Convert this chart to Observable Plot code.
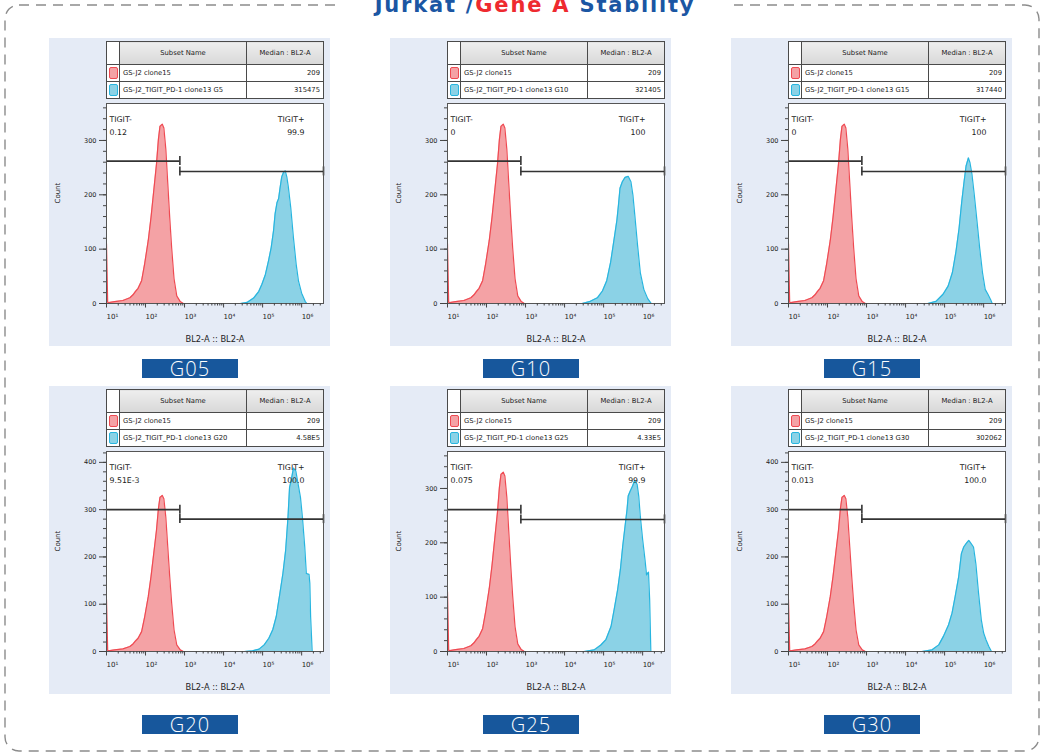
<!DOCTYPE html>
<html><head><meta charset="utf-8">
<script src="https://cdn.jsdelivr.net/npm/d3@7"></script>
<script src="https://cdn.jsdelivr.net/npm/@observablehq/plot@0.6"></script>
<style>
html,body{margin:0;padding:0;background:#fff;}
body{width:1045px;height:754px;overflow:hidden;position:relative;font-family:"DejaVu Sans",sans-serif;}
#border{position:absolute;left:0;top:0;}
#title{position:absolute;left:336px;width:398px;top:-6px;text-align:center;background:#fff;
  font:700 21px "DejaVu Sans",sans-serif;line-height:22px;color:#1b56a3;letter-spacing:1.8px;white-space:nowrap;}
#title .red{color:#ee2a2f;}
.panel{position:absolute;width:281px;height:308px;background:#e5ebf6;}
.panel svg{position:absolute;left:0;top:0;}
table.leg{position:absolute;left:57px;top:3px;width:217px;height:58px;border-collapse:collapse;table-layout:fixed;
  font:6.8px "DejaVu Sans",sans-serif;color:#222;background:#fff;border:1.6px solid #444;}
table.leg td{border:1.2px solid #4a4a4a;padding:0 3px;overflow:hidden;white-space:nowrap;}
table.leg tr.hd td{height:22px;background:linear-gradient(#eeeeee,#d8d8d8);text-align:center;}
table.leg tr.hd td.sw{background:#fff;}
table.leg td.sw{padding:0;}
table.leg td.md{text-align:right;}
.swatch{display:block;width:7px;height:10px;margin:0 auto;border-radius:2px;}
.gl{position:absolute;width:96px;height:19px;background:#17579c;color:#fff;text-align:center;
  font:300 20px "Open Sans",sans-serif;line-height:19px;letter-spacing:1px;}
</style>
</head><body>
<svg id="border" width="1045" height="754"><rect x="5" y="5" width="1034" height="746" rx="14" ry="14" fill="none" stroke="#8c8c8c" stroke-width="1.4" stroke-dasharray="10 7"/></svg>
<div id="title">Jurkat /<span class="red">Gene A</span> Stability</div>
<script>
// ---------- data ----------
const panelNames = ["G05", "G10", "G15", "G20", "G25", "G30"];
const controlName = "GS-J2 clone15";
const controlMedian = "209";
const sampleNames = [
  "GS-J2_TIGIT_PD-1 clone13 G5",
  "GS-J2_TIGIT_PD-1 clone13 G10",
  "GS-J2_TIGIT_PD-1 clone13 G15",
  "GS-J2_TIGIT_PD-1 clone13 G20",
  "GS-J2_TIGIT_PD-1 clone13 G25",
  "GS-J2_TIGIT_PD-1 clone13 G30"
];
const sampleMedians = ["315475", "321405", "317440", "4.58E5", "4.33E5", "302062"];
const negGateName = "TIGIT-";
const posGateName = "TIGIT+";
const negPct = ["0.12", "0", "0", "9.51E-3", "0.075", "0.013"];
const posPct = ["99.9", "100", "100", "100.0", "99.9", "100.0"];
const yMax = [368, 368, 368, 423, 368, 423];
const gateNegY = [262, 262, 262, 300, 261, 300];
const gatePosY = [243, 243, 243, 280, 243, 280];
const gateLog10 = 2.88;
const xLog10Min = 1, xLog10Max = 6.56;
const xTickLabels = ["10\u00b9", "10\u00b2", "10\u00b3", "10\u2074", "10\u2075", "10\u2076"];
const xAxisLabel = "BL2-A :: BL2-A";
const yAxisLabel = "Count";

// control (red) histogram: log10(BL2-A) and count
const redLog = [1.00, 1.00, 1.03, 1.05, 1.21, 1.42, 1.60, 1.68, 1.74, 1.81, 1.90, 1.98, 2.07, 2.14, 2.21, 2.28, 2.33, 2.37, 2.43, 2.47, 2.52, 2.57, 2.62, 2.67, 2.73, 2.80, 2.89, 2.97];
const redCount = [0, 110, 3, 1.5, 3.5, 5.5, 10.5, 16, 22, 28, 42, 74, 116, 158, 207, 256, 302, 326, 330, 323, 284, 221, 158, 102, 46, 14, 3.5, 0];

// sample (blue) histograms
const blueLog_G05 = [4.43, 4.60, 4.77, 4.90, 4.98, 5.07, 5.15, 5.22, 5.28, 5.32, 5.37, 5.41, 5.45, 5.49, 5.54, 5.58, 5.62, 5.66, 5.72, 5.79, 5.86, 5.92, 6.00, 6.09, 6.13];
const blueCount_G05 = [0, 2, 10, 22, 35, 53, 78, 103, 134, 165, 186, 193, 214, 233, 242, 244, 233, 214, 177, 121, 72, 41, 19, 4, 0];
const blueLog_G10 = [4.45, 4.66, 4.84, 4.97, 5.08, 5.18, 5.27, 5.34, 5.38, 5.42, 5.48, 5.55, 5.63, 5.70, 5.75, 5.80, 5.87, 5.94, 6.03, 6.13, 6.22];
const blueCount_G10 = [0, 4, 10.5, 23, 42, 76, 119, 153, 181, 212, 224, 232, 234, 224, 200, 162, 107, 57, 26, 9, 0];
const blueLog_G15 = [4.57, 4.78, 4.96, 5.09, 5.20, 5.29, 5.37, 5.44, 5.50, 5.55, 5.61, 5.65, 5.70, 5.76, 5.83, 5.90, 5.97, 6.04, 6.11, 6.18, 6.22];
const blueCount_G15 = [0, 4, 17, 32, 57, 95, 138, 188, 225, 253, 268, 259, 238, 200, 151, 101, 57, 26, 17, 7, 0];
const blueLog_G20 = [4.53, 4.74, 4.91, 5.04, 5.16, 5.26, 5.35, 5.43, 5.52, 5.59, 5.65, 5.69, 5.73, 5.79, 5.85, 5.91, 5.97, 6.02, 6.08, 6.12, 6.19, 6.21, 6.23, 6.27];
const blueCount_G20 = [0, 1.4, 5, 14, 28, 46, 74, 116, 165, 214, 284, 347, 361, 388, 382, 354, 326, 284, 221, 165, 163, 144, 74, 0];
const blueLog_G25 = [4.50, 4.76, 4.93, 5.06, 5.19, 5.27, 5.36, 5.43, 5.49, 5.56, 5.60, 5.63, 5.68, 5.74, 5.80, 5.86, 5.90, 5.94, 6.00, 6.06, 6.10, 6.15, 6.18, 6.21];
const blueCount_G25 = [0, 3, 12, 22, 46, 77, 114, 151, 194, 237, 261, 286, 295, 304, 315, 307, 286, 249, 206, 169, 141, 146, 95, 0];
const blueLog_G30 = [4.42, 4.68, 4.85, 4.97, 5.10, 5.19, 5.27, 5.36, 5.43, 5.49, 5.56, 5.62, 5.68, 5.74, 5.80, 5.87, 5.94, 6.00, 6.06, 6.13, 6.20];
const blueCount_G30 = [0, 3.5, 14, 32, 56, 81, 116, 158, 207, 221, 229, 235, 228, 221, 186, 123, 67, 39, 25, 11, 0];

const blueLogs = [blueLog_G05, blueLog_G10, blueLog_G15, blueLog_G20, blueLog_G25, blueLog_G30];
const blueCounts = [blueCount_G05, blueCount_G10, blueCount_G15, blueCount_G20, blueCount_G25, blueCount_G30];

// ---------- layout / style ----------
const RED_FILL = "#f4a2a5", RED_LINE = "#ef4a52";
const BLUE_FILL = "#8bd2e6", BLUE_LINE = "#27b5df";
const panelLeft = [49, 390, 731];
const panelTop = [38, 386];
const labelTop = [359, 715];
const PW = 281, PH = 308, ML = 57, MR = 7, MT = 65, MB = 43;
const capPx = 4.5;

function makePlot(i) {
  const red = redLog.map((l, k) => ({x: 10 ** l, y: redCount[k]}));
  const blue = blueLogs[i].map((l, k) => ({x: 10 ** l, y: blueCounts[i][k]}));
  const xMin = 10 ** xLog10Min, xMax = 10 ** xLog10Max, gx = 10 ** gateLog10;
  const majorX = xTickLabels.map((_, k) => 10 ** (k + 1));
  const minorX = [];
  for (let e = 1; e <= 6; e++) for (let m = 2; m <= 9; m++) { const v = m * 10 ** e; if (v <= xMax) minorX.push(v); }
  const majorY = d3.range(0, yMax[i] + 1, 100);
  const minorY = d3.range(0, yMax[i] + 1, 20);
  const gates = [
    {x1: xMin, x2: gx, y: gateNegY[i]},
    {x1: gx, x2: xMax, y: gatePosY[i]}
  ];
  const caps = [
    {x: gx, y: gateNegY[i]}, {x: gx, y: gatePosY[i]}, {x: xMax, y: gatePosY[i]}
  ];
  const txt = {fontFamily: "DejaVu Sans", fill: "#222"};
  return Plot.plot({
    width: PW, height: PH, marginLeft: ML, marginRight: MR, marginTop: MT, marginBottom: MB,
    style: {background: "transparent", overflow: "visible", fontFamily: "DejaVu Sans"},
    x: {type: "log", domain: [xMin, xMax], axis: null},
    y: {domain: [0, yMax[i]], axis: null},
    marks: [
      Plot.frame({fill: "#fff", stroke: null}),
      Plot.areaY(red, {x: "x", y: "y", fill: RED_FILL, clip: true}),
      Plot.line(red, {x: "x", y: "y", stroke: RED_LINE, strokeWidth: 1.2, clip: true}),
      Plot.areaY(blue, {x: "x", y: "y", fill: BLUE_FILL, clip: true}),
      Plot.line(blue, {x: "x", y: "y", stroke: BLUE_LINE, strokeWidth: 1.2, clip: true}),
      Plot.ruleY(gates, {x1: "x1", x2: "x2", y: "y", stroke: "#333", strokeWidth: 1.6}),
      Plot.ruleX(caps, {x: "x", y1: "y", y2: "y", insetTop: -capPx, insetBottom: -capPx, stroke: "#333", strokeWidth: 1.6}),
      Plot.frame({stroke: "#555", strokeWidth: 1}),
      // y axis
      Plot.axisY(minorY, {anchor: "left", tickSize: 3, tickFormat: () => "", label: null, stroke: "#444"}),
      Plot.axisY(majorY, {anchor: "left", tickSize: 7, tickPadding: 3, fontSize: 6.5, label: null, stroke: "#444", fill: "#222"}),
      // x axis
      Plot.axisX(minorX, {anchor: "bottom", tickSize: 2.5, tickFormat: () => "", label: null, stroke: "#444"}),
      Plot.axisX(majorX, {anchor: "bottom", tickSize: 4.5, tickFormat: () => "", label: null, stroke: "#444"}),
      Plot.text(majorX, {x: d => d, frameAnchor: "bottom", dy: 15, textAnchor: "start", text: (d, k) => xTickLabels[k], fontSize: 7, ...txt}),
      // axis titles
      Plot.text([xAxisLabel], {frameAnchor: "bottom", dy: 38, text: d => d, fontSize: 8.3, ...txt}),
      Plot.text([yAxisLabel], {frameAnchor: "left", dx: -49, rotate: -90, text: d => d, fontSize: 7, ...txt}),
      // gate labels
      Plot.text([negGateName], {frameAnchor: "top-left", dx: 3, dy: 13, textAnchor: "start", text: d => d, fontSize: 7.8, ...txt}),
      Plot.text([negPct[i]], {frameAnchor: "top-left", dx: 3, dy: 26, textAnchor: "start", text: d => d, fontSize: 7.8, ...txt}),
      Plot.text([posGateName], {frameAnchor: "top-right", dx: -19, dy: 13, textAnchor: "end", text: d => d, fontSize: 7.8, ...txt}),
      Plot.text([posPct[i]], {frameAnchor: "top-right", dx: -19, dy: 26, textAnchor: "end", text: d => d, fontSize: 7.8, ...txt})
    ]
  });
}

function makeTable(i) {
  const t = document.createElement("table");
  t.className = "leg";
  t.innerHTML =
    `<colgroup><col style="width:13px"><col style="width:127px"><col style="width:77px"></colgroup>` +
    `<tr class="hd"><td class="sw"></td><td>Subset Name</td><td>Median : BL2-A</td></tr>` +
    `<tr><td class="sw"><span class="swatch" style="background:${RED_FILL};border:1px solid ${RED_LINE}"></span></td><td>${controlName}</td><td class="md">${controlMedian}</td></tr>` +
    `<tr><td class="sw"><span class="swatch" style="background:${BLUE_FILL};border:1px solid ${BLUE_LINE}"></span></td><td>${sampleNames[i]}</td><td class="md">${sampleMedians[i]}</td></tr>`;
  return t;
}

panelNames.forEach((name, i) => {
  const col = i % 3, row = Math.floor(i / 3);
  const p = document.createElement("div");
  p.className = "panel";
  p.style.left = panelLeft[col] + "px";
  p.style.top = panelTop[row] + "px";
  p.appendChild(makePlot(i));
  p.appendChild(makeTable(i));
  document.body.appendChild(p);
  const g = document.createElement("div");
  g.className = "gl";
  g.style.left = (panelLeft[col] + 93) + "px";
  g.style.top = labelTop[row] + "px";
  g.textContent = name;
  document.body.appendChild(g);
});
</script>
</body></html>
